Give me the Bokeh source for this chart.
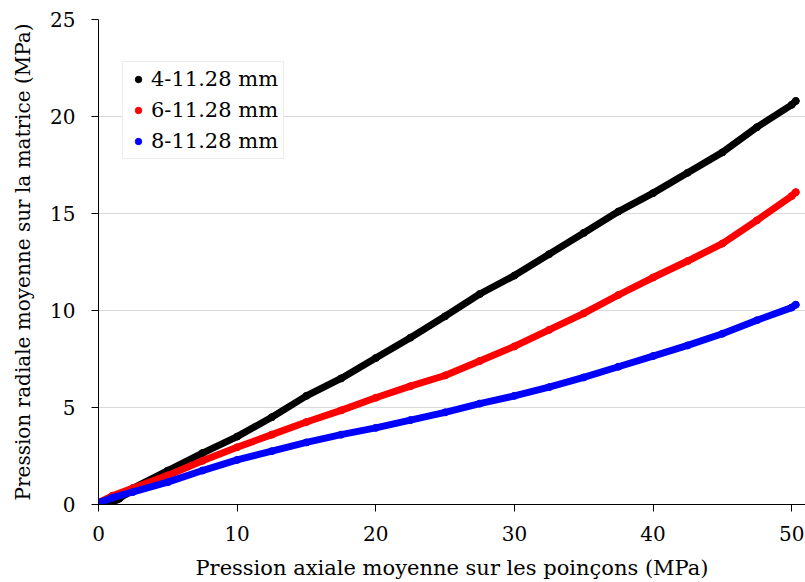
from bokeh.plotting import figure
from bokeh.models import Legend, LegendItem, FixedTicker, Range1d
from bokeh.embed import file_html
from bokeh.resources import INLINE

# values
x_black = [0.0, 0.5, 1.0, 1.5, 2.0, 2.5, 5.0, 7.5, 10.0, 12.5, 15.0, 17.5, 20.0, 22.5, 25.0,
           27.5, 30.0, 32.5, 35.0, 37.5, 40.0, 42.5, 45.0, 47.5, 50.0, 50.3]
y_black = [0.05, 0.0, 0.1, 0.3, 0.55, 0.85, 1.75, 2.65, 3.5, 4.5, 5.6, 6.5, 7.55, 8.6, 9.7,
           10.85, 11.8, 12.9, 14.0, 15.1, 16.05, 17.1, 18.15, 19.45, 20.6, 20.8]

x_red = [0.0, 1.0, 2.5, 5.0, 7.5, 10.0, 12.5, 15.0, 17.5, 20.0, 22.5, 25.0, 27.5, 30.0,
         32.5, 35.0, 37.5, 40.0, 42.5, 45.0, 47.5, 50.0, 50.3]
y_red = [0.1, 0.45, 0.85, 1.5, 2.25, 2.95, 3.6, 4.25, 4.85, 5.5, 6.1, 6.65, 7.4, 8.15,
         9.0, 9.85, 10.8, 11.7, 12.55, 13.45, 14.65, 15.9, 16.1]

x_blue = [0.0, 0.3, 1.0, 2.5, 5.0, 7.5, 10.0, 12.5, 15.0, 17.5, 20.0, 22.5, 25.0, 27.5, 30.0,
          32.5, 35.0, 37.5, 40.0, 42.5, 45.0, 47.5, 50.0, 50.3]
y_blue = [0.1, 0.15, 0.35, 0.65, 1.15, 1.75, 2.3, 2.75, 3.2, 3.6, 3.95, 4.35, 4.75, 5.2, 5.6,
          6.05, 6.55, 7.1, 7.65, 8.2, 8.8, 9.5, 10.15, 10.3]

labels = ["4-11.28 mm", "6-11.28 mm", "8-11.28 mm"]
colors = ["black", "red", "blue"]

x_ticks = [0, 10, 20, 30, 40, 50]
y_ticks = [0, 5, 10, 15, 20, 25]

FONT = "DejaVu Serif"

p = figure(width=805, height=582, output_backend="svg", toolbar_location=None,
           x_range=Range1d(0, 51), y_range=Range1d(0, 25),
           min_border_left=98, min_border_right=0, min_border_top=19, min_border_bottom=78)
p.outline_line_color = None
p.background_fill_color = "white"
p.border_fill_color = "white"

p.xgrid.grid_line_color = None
p.ygrid.grid_line_color = "#d9d9d9"
p.ygrid.grid_line_width = 1

for ax in (p.xaxis[0], p.yaxis[0]):
    ax.axis_line_color = "black"
    ax.axis_line_width = 1
    ax.major_tick_line_color = "black"
    ax.major_tick_in = 0
    ax.major_tick_out = 7
    ax.minor_tick_line_color = None
    ax.major_label_text_font = FONT
    ax.major_label_text_font_size = "20px"
    ax.major_label_text_color = "black"
    ax.axis_label_text_font = FONT
    ax.axis_label_text_font_style = "normal"
    ax.axis_label_text_color = "black"

p.xaxis.ticker = FixedTicker(ticks=x_ticks)
p.yaxis.ticker = FixedTicker(ticks=y_ticks)
p.xaxis.axis_label = "Pression axiale moyenne sur les poinçons (MPa)"
p.yaxis.axis_label = "Pression radiale moyenne sur la matrice (MPa)"
p.xaxis.axis_label_text_font_size = "21px"
p.yaxis.axis_label_text_font_size = "20px"
p.xaxis.major_label_standoff = 14
p.yaxis.major_label_standoff = 16
p.xaxis.axis_label_standoff = 12
p.yaxis.axis_label_standoff = 12

items = []
for xs, ys, c, lab in [(x_black, y_black, colors[0], labels[0]),
                       (x_red, y_red, colors[1], labels[1]),
                       (x_blue, y_blue, colors[2], labels[2])]:
    p.line(xs, ys, line_color=c, line_width=7, line_cap="round", line_join="round")
    r = p.scatter(xs, ys, size=7, fill_color=c, line_color=c)
    items.append(LegendItem(label=lab, renderers=[r]))

legend = Legend(items=items, location=(24, 345))
legend.label_text_font = FONT
legend.label_text_font_size = "21px"
legend.label_text_color = "black"
legend.glyph_width = 20
legend.glyph_height = 16
legend.label_standoff = 3
legend.padding = 5
legend.spacing = 7
legend.margin = 0
legend.border_line_color = "#d9d9d9"
legend.border_line_width = 1
legend.background_fill_color = "white"
legend.background_fill_alpha = 1.0
p.add_layout(legend, "center")

open("out.html", "w").write(file_html(p, INLINE))
